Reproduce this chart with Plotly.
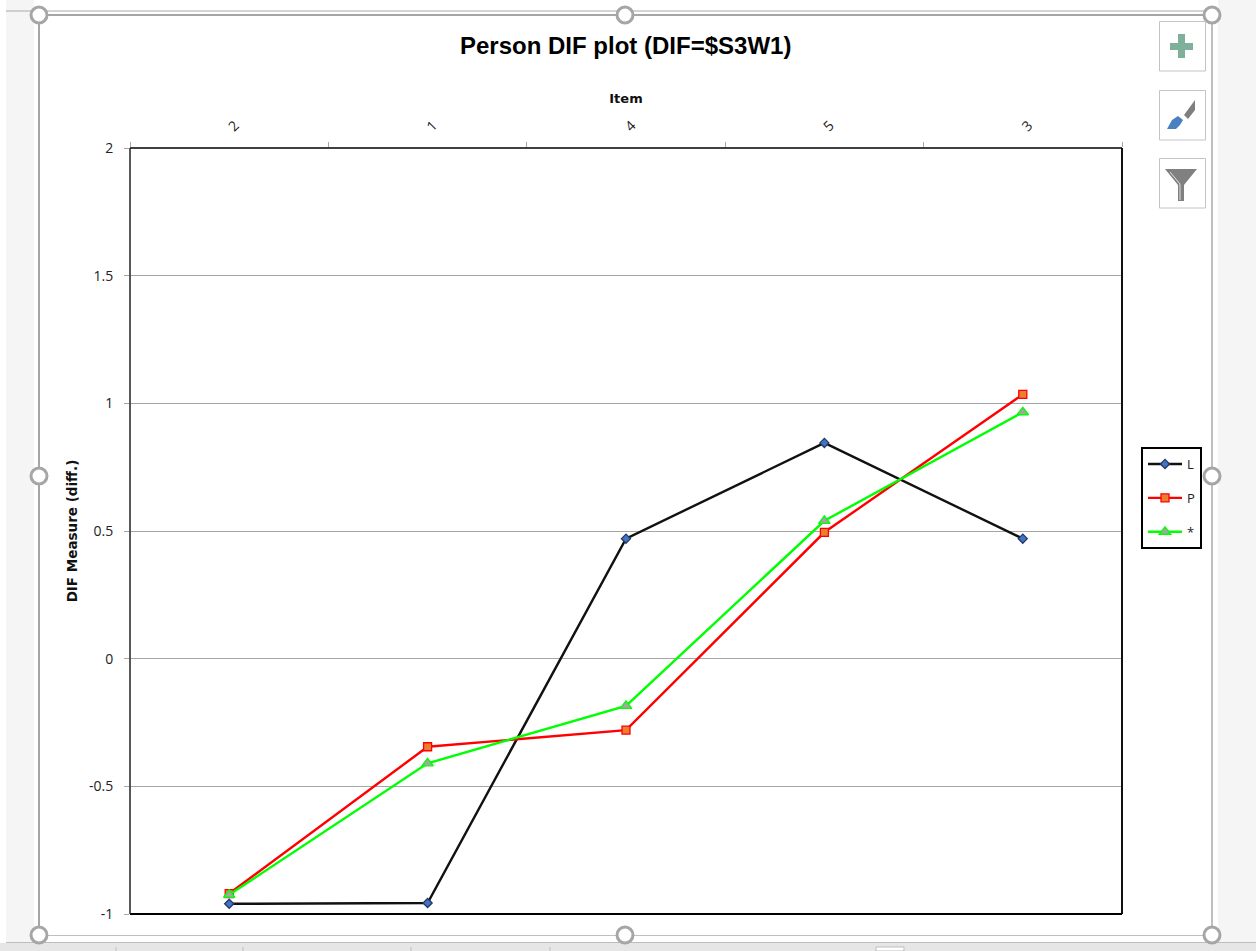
import plotly.graph_objects as go

categories = ["2", "1", "4", "5", "3"]
series_L = [-0.96, -0.957, 0.47, 0.845, 0.47]
series_P = [-0.92, -0.345, -0.28, 0.495, 1.035]
series_star = [-0.925, -0.41, -0.185, 0.54, 0.965]
y_ticks = [-1, -0.5, 0, 0.5, 1, 1.5, 2]
y_labels = ["-1", "-0.5", "0", "0.5", "1", "1.5", "2"]

W, H = 1256, 951
L, R, T, B = 130, 1122, 148, 914


def px(x):
    return (x - L) / (R - L)


def py(y):
    return (B - y) / (B - T)


fig = go.Figure()
styles = [
    ("L", series_L, "#111111", "diamond", "#4472C4", "#1f3864", 7),
    ("P", series_P, "#FF0000", "square", "#ED7D31", "#FF0000", 8),
    ("*", series_star, "#00FF00", "triangle-up", "#A5A5A5", "#00FF00", 10),
]
for name, vals, col, sym, fill, edge, size in styles:
    fig.add_trace(go.Scatter(
        x=categories, y=vals, name=name, mode="lines+markers", legendgroup=name,
        line=dict(color=col, width=2.4),
        marker=dict(symbol=sym, size=size, color=fill, line=dict(color=edge, width=1.3)),
    ))

shapes = []


def rect(x0, y0, x1, y1, fill=None, line=None, lw=1, layer="above"):
    shapes.append(dict(type="rect", xref="paper", yref="paper", x0=px(x0), x1=px(x1), y0=py(y0), y1=py(y1),
                       fillcolor=fill or "rgba(0,0,0,0)", line=dict(color=line or "rgba(0,0,0,0)", width=lw if line else 0),
                       layer=layer))


def seg(x0, y0, x1, y1, col, lw=1, layer="above"):
    shapes.append(dict(type="line", xref="paper", yref="paper", x0=px(x0), x1=px(x1), y0=py(y0), y1=py(y1),
                       line=dict(color=col, width=lw), layer=layer))


def poly(points, fill, line=None, lw=0):
    d = "M" + " L".join(f"{px(a):.5f},{py(b):.5f}" for a, b in points) + " Z"
    shapes.append(dict(type="path", xref="paper", yref="paper", path=d, fillcolor=fill,
                       line=dict(color=line or fill, width=lw), layer="above"))


# application surround
rect(6, 0, 34, 943, "#F5F5F5", layer="below")
rect(1218, 0, 1256, 943, "#F5F5F5", layer="below")
rect(0, 943, 1256, 951, "#E6E6E6")
for xs in (116, 243, 411, 550):
    seg(xs, 947, xs, 951, "#BDBDBD")
rect(876, 947, 904, 951, "#FFFFFF", "#BDBDBD")
seg(6, 11, 1218, 11, "#A9A9A9", 1)
seg(6, 942.5, 1256, 942.5, "#BDBDBD", 1)
# selection frame
seg(39, 15, 1212, 15, "#A6A6A6", 2)
seg(39, 15, 39, 935, "#A6A6A6", 2)
seg(1212, 15, 1212, 935, "#BFBFBF", 2)
seg(39, 935.5, 1212, 935.5, "#BFBFBF", 1)
for cx, cy in [(39, 15), (625, 15), (1212, 15), (39, 476), (1212, 476), (39, 935), (625, 935), (1212, 935)]:
    shapes.append(dict(type="circle", xref="paper", yref="paper", x0=px(cx - 8), x1=px(cx + 8), y0=py(cy - 8), y1=py(cy + 8),
                       fillcolor="#FFFFFF", line=dict(color="#A6A6A6", width=3), layer="above"))
# side buttons
for top in (21, 90, 158):
    rect(1159.5, top + .5, 1205.5, top + 50, "#FFFFFF", "#C4C4C4", 1)
rect(1170, 43, 1193, 50, "#7FB09B")
rect(1178, 34, 1185, 58, "#7FB09B")
poly([(1167, 129), (1172, 120), (1178, 116), (1183, 120), (1180, 125), (1176, 129)], "#4A7FC1")
poly([(1184, 115), (1195, 100), (1195, 110), (1188, 119)], "#7F7F7F")
poly([(1165, 169), (1197, 169), (1184, 185), (1184, 201), (1178, 201), (1178, 185)], "#808080")
seg(1170, 172, 1180, 184, "#E0E0E0", 1)
seg(1180, 184, 1180, 200, "#E0E0E0", 1)
# plot frame
seg(L, T, R, T, "#404040", 2)
seg(R, T, R, B, "#111111", 2)
seg(L, B, R, B, "#000000", 2)
seg(L, T, L, B, "#222222", 1.5)

annotations = [dict(text="<b>Person DIF plot (DIF=$S3W1)</b>", xref="paper", yref="paper", x=px(625), y=py(46),
                    showarrow=False, xanchor="center", yanchor="middle",
                    font=dict(family="Liberation Sans", size=24, color="#000000"))]

fig.update_layout(
    width=W, height=H, autosize=False,
    margin=dict(l=L, r=W - R, t=T, b=H - B, pad=0),
    paper_bgcolor="#FFFFFF", plot_bgcolor="#FFFFFF",
    shapes=shapes, annotations=annotations,
    font=dict(family="Open Sans", size=14, color="#222222"),
    xaxis=dict(
        type="category", categoryorder="array", categoryarray=categories, side="top",
        range=[-0.5, 4.5], tickson="boundaries", ticks="outside", ticklen=5, tickcolor="#A6A6A6", tickwidth=1,
        tickangle=-45, showgrid=False, zeroline=False, showline=False, ticklabelstandoff=10,
        tickfont=dict(family="Open Sans", size=14, color="#222222"),
        title=dict(text="<b>Item</b>", standoff=9, font=dict(family="DejaVu Sans", size=13, color="#111111")),
    ),
    yaxis=dict(
        range=[-1, 2], tickmode="array", tickvals=y_ticks, ticktext=y_labels, ticks="outside", ticklen=5,
        tickcolor="#A6A6A6", tickwidth=1, showgrid=True, gridcolor="#A6A6A6", gridwidth=1, zeroline=False,
        showline=False, ticklabelstandoff=8,
        tickfont=dict(family="Open Sans", size=14, color="#222222"),
        title=dict(text="<b>DIF Measure (diff.)</b>", standoff=8, font=dict(family="DejaVu Sans", size=13.5, color="#111111")),
    ),
    showlegend=True,
    legend=dict(
        x=px(1141), y=py(447), xanchor="left", yanchor="top", bgcolor="#FFFFFF", bordercolor="#000000", borderwidth=2,
        itemwidth=34, tracegroupgap=14, font=dict(family="Open Sans", size=13, color="#222222"),
        traceorder="grouped", itemclick=False, itemdoubleclick=False,
    ),
)

fig.write_html("out.html", config=dict(displayModeBar=False),
               post_script="document.body.style.margin='0';")
